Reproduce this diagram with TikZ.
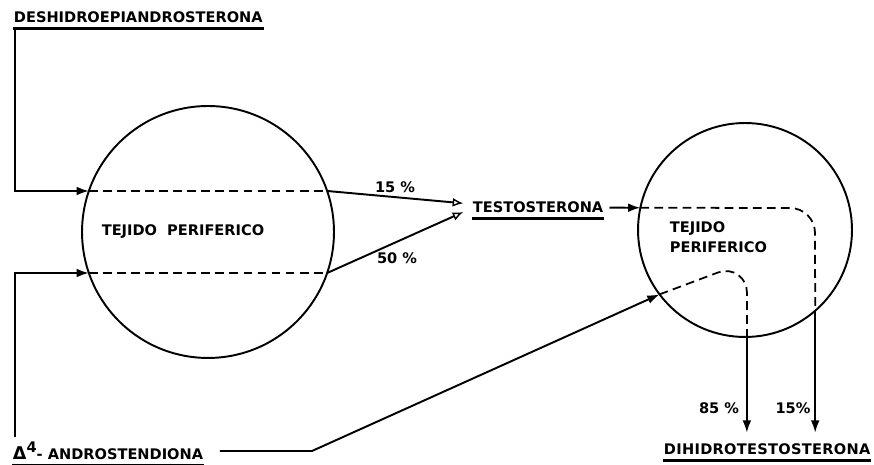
\documentclass[tikz,border=0pt]{standalone}
\usepackage{fontspec}
\setmainfont{DejaVu Sans}
\usepackage{tikz}
\usetikzlibrary{arrows.meta}

\begin{document}
\begin{tikzpicture}[x=0.02cm,y=0.02cm,line width=1.1pt,
  >={Latex[length=7pt,width=5pt]},
  abierta/.style={-{Latex[open,length=6pt,width=5pt,line width=0.8pt]}},
  texto/.style={inner sep=0pt,font=\fontsize{8.3}{11.3}\selectfont\bfseries},
  titulo/.style={texto,anchor=base west},
  tejido/.style={draw,circle,inner sep=0pt,outer sep=0pt},
  corte/.style={dash pattern=on 5pt off 3pt,line width=1pt},
  raya/.style={line width=1.8pt}]
\useasboundingbox (0,0) rectangle (874,465);

% los dos tejidos
\node[tejido,minimum size=5.04cm] (cizq) at (208,233) {};
\node[tejido,minimum size=4.28cm] (cder) at (745,235) {};
\node[texto] (tpi) at (183,233) {TEJIDO \ PERIFERICO};
\node[texto,align=left,anchor=west] (tpd) at (669,228) {TEJIDO\\PERIFERICO};

% hormonas
\node[titulo] (desh) at (13,442) {DESHIDROEPIANDROSTERONA};
\node[titulo] (testo) at (472,252) {TESTOSTERONA};
\node[titulo] (dht) at (663,10) {\addfontfeature{LetterSpace=2}DIHIDROTESTOSTERONA};
\node[titulo] (andro) at (12,5) {{\fontsize{10}{11}\selectfont Δ}\raisebox{4pt}{4}- ANDROSTENDIONA};
\foreach \n in {desh,testo,dht,andro}
  \draw[raya] ([yshift=-3pt]\n.base west) -- ([yshift=-3pt]\n.base east);

% porcentajes
\node[texto] (p15) at (395,278) {15 \%};
\node[texto] (p50) at (397,207) {50 \%};
\node[texto,anchor=east] (p85) at (740,57) {85 \%};
\node[texto] (p15b) at (793,57) {15\%};

% entradas al tejido periferico
\coordinate (a0) at (15,28);
\coordinate (codo) at (312,14);
\draw[->] ([xshift=1pt,yshift=-3pt]desh.base west) |- (cizq.161);
\draw[->] (a0) |- (cizq.199);
\draw[corte] (cizq.161) -- (cizq.19);
\draw[corte] (cizq.199) -- (cizq.-19);
\draw[abierta] (cizq.19) -- ([xshift=-5pt,yshift=2.5pt]testo.west);
\draw[abierta] (cizq.-19) -- ([xshift=-5pt,yshift=-2.5pt]testo.west);

% hacia dihidrotestosterona
\draw[->] ([xshift=3pt]testo.east) -- (cder.168);
\draw[corte] (cder.168) -- (790,257) arc[start angle=90,end angle=0,radius=25] -- (cder.-49);
\draw[->,shorten >=6pt] (cder.-49) -- (cder.-49 |- dht.north);
\draw[->,shorten <=9pt] (andro.east |- codo) -- (codo) -- (cder.217);
\draw[corte] (cder.217) -- (718,192.5) arc[start angle=112,end angle=0,radius=21] -- (cder.-89);
\draw[->,shorten >=6pt] (cder.-89) -- (cder.-89 |- dht.north);
\end{tikzpicture}
\end{document}
